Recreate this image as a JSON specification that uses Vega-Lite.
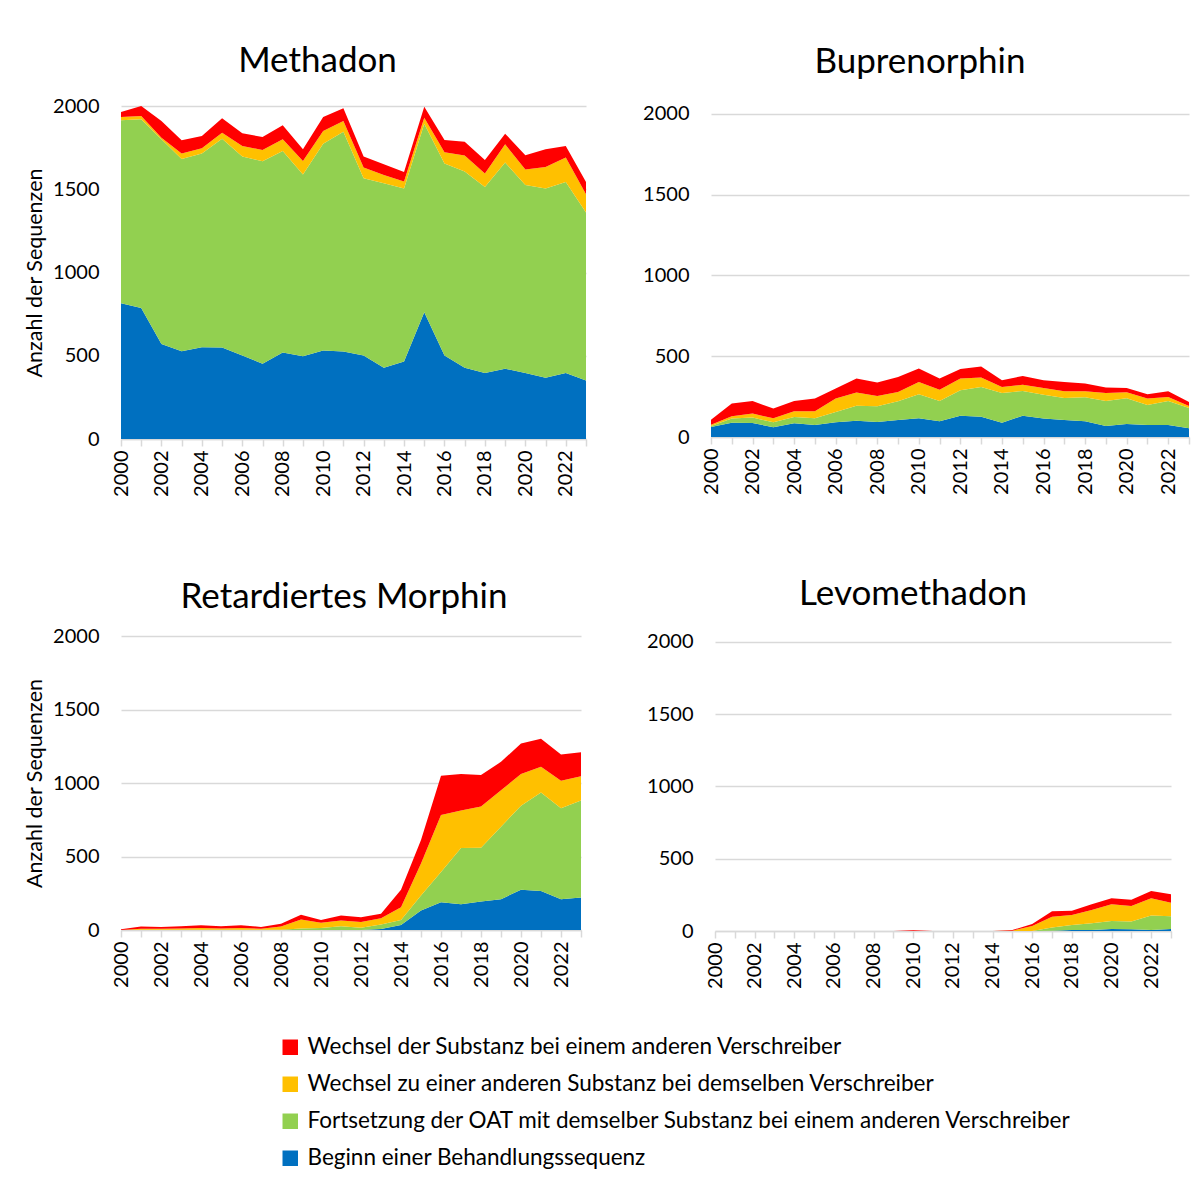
{
  "$schema": "https://vega.github.io/schema/vega-lite/v6.json",
  "padding": {"left": 24, "top": 44, "right": 5, "bottom": 5},
  "background": "white",
  "datasets": {
    "d": [
      {"drug":"M","year":2000,"k1":815,"k2":1099,"k3":20,"k4":30},
      {"drug":"M","year":2001,"k1":787,"k2":1133,"k3":20,"k4":60},
      {"drug":"M","year":2002,"k1":571,"k2":1229,"k3":10,"k4":100},
      {"drug":"M","year":2003,"k1":527,"k2":1155,"k3":32,"k4":80},
      {"drug":"M","year":2004,"k1":551,"k2":1163,"k3":32,"k4":74},
      {"drug":"M","year":2005,"k1":549,"k2":1255,"k3":36,"k4":86},
      {"drug":"M","year":2006,"k1":501,"k2":1195,"k3":64,"k4":76},
      {"drug":"M","year":2007,"k1":452,"k2":1216,"k3":68,"k4":78},
      {"drug":"M","year":2008,"k1":519,"k2":1211,"k3":70,"k4":84},
      {"drug":"M","year":2009,"k1":497,"k2":1091,"k3":82,"k4":70},
      {"drug":"M","year":2010,"k1":531,"k2":1243,"k3":76,"k4":84},
      {"drug":"M","year":2011,"k1":525,"k2":1321,"k3":64,"k4":76},
      {"drug":"M","year":2012,"k1":501,"k2":1065,"k3":64,"k4":66},
      {"drug":"M","year":2013,"k1":428,"k2":1108,"k3":50,"k4":64},
      {"drug":"M","year":2014,"k1":465,"k2":1039,"k3":42,"k4":58},
      {"drug":"M","year":2015,"k1":761,"k2":1133,"k3":36,"k4":66},
      {"drug":"M","year":2016,"k1":501,"k2":1153,"k3":68,"k4":74},
      {"drug":"M","year":2017,"k1":428,"k2":1178,"k3":96,"k4":84},
      {"drug":"M","year":2018,"k1":396,"k2":1118,"k3":80,"k4":82},
      {"drug":"M","year":2019,"k1":422,"k2":1238,"k3":110,"k4":64},
      {"drug":"M","year":2020,"k1":396,"k2":1130,"k3":92,"k4":86},
      {"drug":"M","year":2021,"k1":368,"k2":1136,"k3":130,"k4":106},
      {"drug":"M","year":2022,"k1":396,"k2":1148,"k3":146,"k4":70},
      {"drug":"M","year":2023,"k1":352,"k2":1008,"k3":110,"k4":74},
      {"drug":"B","year":2000,"k1":62,"k2":6,"k3":8,"k4":31},
      {"drug":"B","year":2001,"k1":89,"k2":25,"k3":14,"k4":79},
      {"drug":"B","year":2002,"k1":87,"k2":33,"k3":25,"k4":78},
      {"drug":"B","year":2003,"k1":60,"k2":31,"k3":25,"k4":60},
      {"drug":"B","year":2004,"k1":85,"k2":39,"k3":35,"k4":64},
      {"drug":"B","year":2005,"k1":74,"k2":42,"k3":43,"k4":79},
      {"drug":"B","year":2006,"k1":91,"k2":64,"k3":83,"k4":62},
      {"drug":"B","year":2007,"k1":101,"k2":93,"k3":81,"k4":87},
      {"drug":"B","year":2008,"k1":93,"k2":97,"k3":64,"k4":83},
      {"drug":"B","year":2009,"k1":105,"k2":116,"k3":58,"k4":93},
      {"drug":"B","year":2010,"k1":116,"k2":148,"k3":77,"k4":83},
      {"drug":"B","year":2011,"k1":97,"k2":126,"k3":70,"k4":69},
      {"drug":"B","year":2012,"k1":132,"k2":157,"k3":73,"k4":59},
      {"drug":"B","year":2013,"k1":126,"k2":184,"k3":58,"k4":68},
      {"drug":"B","year":2014,"k1":89,"k2":184,"k3":37,"k4":41},
      {"drug":"B","year":2015,"k1":132,"k2":153,"k3":39,"k4":54},
      {"drug":"B","year":2016,"k1":114,"k2":148,"k3":42,"k4":47},
      {"drug":"B","year":2017,"k1":105,"k2":137,"k3":41,"k4":58},
      {"drug":"B","year":2018,"k1":97,"k2":149,"k3":37,"k4":48},
      {"drug":"B","year":2019,"k1":68,"k2":155,"k3":50,"k4":33},
      {"drug":"B","year":2020,"k1":81,"k2":159,"k3":37,"k4":27},
      {"drug":"B","year":2021,"k1":74,"k2":124,"k3":40,"k4":26},
      {"drug":"B","year":2022,"k1":74,"k2":149,"k3":25,"k4":35},
      {"drug":"B","year":2023,"k1":54,"k2":126,"k3":12,"k4":25},
      {"drug":"R","year":2000,"k1":0,"k2":0,"k3":0,"k4":5},
      {"drug":"R","year":2001,"k1":0,"k2":2,"k3":7,"k4":14},
      {"drug":"R","year":2002,"k1":0,"k2":2,"k3":7,"k4":12},
      {"drug":"R","year":2003,"k1":0,"k2":2,"k3":9,"k4":14},
      {"drug":"R","year":2004,"k1":0,"k2":2,"k3":12,"k4":18},
      {"drug":"R","year":2005,"k1":0,"k2":2,"k3":9,"k4":14},
      {"drug":"R","year":2006,"k1":0,"k2":2,"k3":12,"k4":18},
      {"drug":"R","year":2007,"k1":0,"k2":2,"k3":7,"k4":12},
      {"drug":"R","year":2008,"k1":0,"k2":2,"k3":21,"k4":20},
      {"drug":"R","year":2009,"k1":0,"k2":11,"k3":60,"k4":32},
      {"drug":"R","year":2010,"k1":0,"k2":14,"k3":36,"k4":18},
      {"drug":"R","year":2011,"k1":0,"k2":25,"k3":39,"k4":34},
      {"drug":"R","year":2012,"k1":0,"k2":16,"k3":39,"k4":32},
      {"drug":"R","year":2013,"k1":7,"k2":30,"k3":43,"k4":30},
      {"drug":"R","year":2014,"k1":34,"k2":34,"k3":87,"k4":119},
      {"drug":"R","year":2015,"k1":132,"k2":103,"k3":217,"k4":160},
      {"drug":"R","year":2016,"k1":189,"k2":206,"k3":388,"k4":267},
      {"drug":"R","year":2017,"k1":176,"k2":381,"k3":256,"k4":249},
      {"drug":"R","year":2018,"k1":194,"k2":365,"k3":281,"k4":215},
      {"drug":"R","year":2019,"k1":210,"k2":493,"k3":247,"k4":194},
      {"drug":"R","year":2020,"k1":274,"k2":571,"k3":217,"k4":207},
      {"drug":"R","year":2021,"k1":265,"k2":671,"k3":174,"k4":191},
      {"drug":"R","year":2022,"k1":210,"k2":619,"k3":187,"k4":178},
      {"drug":"R","year":2023,"k1":221,"k2":660,"k3":165,"k4":164},
      {"drug":"L","year":2000,"k1":0,"k2":0,"k3":0,"k4":0},
      {"drug":"L","year":2001,"k1":0,"k2":0,"k3":0,"k4":0},
      {"drug":"L","year":2002,"k1":0,"k2":0,"k3":0,"k4":0},
      {"drug":"L","year":2003,"k1":0,"k2":0,"k3":0,"k4":0},
      {"drug":"L","year":2004,"k1":0,"k2":0,"k3":0,"k4":0},
      {"drug":"L","year":2005,"k1":0,"k2":0,"k3":0,"k4":0},
      {"drug":"L","year":2006,"k1":0,"k2":0,"k3":0,"k4":0},
      {"drug":"L","year":2007,"k1":0,"k2":0,"k3":0,"k4":0},
      {"drug":"L","year":2008,"k1":0,"k2":0,"k3":0,"k4":0},
      {"drug":"L","year":2009,"k1":0,"k2":0,"k3":0,"k4":0},
      {"drug":"L","year":2010,"k1":0,"k2":0,"k3":0,"k4":5},
      {"drug":"L","year":2011,"k1":0,"k2":0,"k3":0,"k4":0},
      {"drug":"L","year":2012,"k1":0,"k2":0,"k3":0,"k4":0},
      {"drug":"L","year":2013,"k1":0,"k2":0,"k3":0,"k4":0},
      {"drug":"L","year":2014,"k1":0,"k2":0,"k3":0,"k4":0},
      {"drug":"L","year":2015,"k1":0,"k2":0,"k3":2,"k4":5},
      {"drug":"L","year":2016,"k1":0,"k2":0,"k3":35,"k4":13},
      {"drug":"L","year":2017,"k1":2,"k2":23,"k3":74,"k4":37},
      {"drug":"L","year":2018,"k1":7,"k2":35,"k3":69,"k4":30},
      {"drug":"L","year":2019,"k1":7,"k2":46,"k3":92,"k4":40},
      {"drug":"L","year":2020,"k1":14,"k2":55,"k3":116,"k4":41},
      {"drug":"L","year":2021,"k1":12,"k2":53,"k3":108,"k4":44},
      {"drug":"L","year":2022,"k1":7,"k2":101,"k3":118,"k4":51},
      {"drug":"L","year":2023,"k1":14,"k2":88,"k3":94,"k4":58}
    ]
  },
  "config": {
    "font": "Lato",
    "view": {"stroke": null},
    "title": {"fontSize": 35, "fontWeight": "normal", "color": "#000000", "anchor": "middle", "frame": "group"},
    "axisX": {
      "labelAngle": -90,
      "labelFontSize": 20,
      "labelColor": "#000000",
      "labelOverlap": false,
      "labelPadding": 4,
      "tickColor": "#D9D9D9",
      "tickWidth": 1.5,
      "tickSize": 7,
      "domainColor": "#D9D9D9",
      "domainWidth": 1.5,
      "grid": false,
      "title": null
    },
    "axisY": {
      "grid": true,
      "gridColor": "#D9D9D9",
      "gridWidth": 1.5,
      "domain": false,
      "ticks": false,
      "labelFontSize": 20,
      "labelColor": "#000000",
      "labelPadding": 22,
      "titleFontSize": 21.5,
      "titleFontWeight": "normal",
      "titleColor": "#000000"
    }
  },
  "spacing": 79,
  "vconcat": [
    {
      "spacing": 46,
      "hconcat": [
        {
          "title": {"text": "Methadon", "offset": 17, "dx": -36},
          "width": 465, "height": 333,
          "data": {"name": "d"},
          "transform": [{"filter": "datum.drug == 'M'"}, {"fold": ["k1","k2","k3","k4"], "as": ["cat","value"]}],
          "mark": {"type": "area"},
          "encoding": {
            "x": {"field": "year", "type": "quantitative", "scale": {"domain": [2000, 2023], "nice": false, "zero": false},
              "axis": {"values": [2000,2001,2002,2003,2004,2005,2006,2007,2008,2009,2010,2011,2012,2013,2014,2015,2016,2017,2018,2019,2020,2021,2022,2023], "format": "d", "labelExpr": "datum.value % 2 == 0 && datum.value < 2023 ? datum.label : ''"}},
            "y": {"field": "value", "type": "quantitative", "stack": "zero", "scale": {"domain": [0, 2000], "nice": false}, "axis": {"values": [0,500,1000,1500,2000], "format": "d", "title": "Anzahl der Sequenzen", "titlePadding": 6}},
            "color": {"field": "cat", "type": "nominal", "scale": {"domain": ["k4","k3","k2","k1"], "range": ["#FF0000","#FFC000","#92D050","#0070C0"]},
              "legend": {"orient": "none", "legendX": 158, "legendY": 930, "direction": "vertical", "title": null, "symbolType": "square", "symbolSize": 240, "symbolStrokeWidth": 0, "labelFontSize": 22.5, "labelColor": "#000000", "labelLimit": 1000, "rowPadding": 14, "labelOffset": 6, "padding": 0,
                "labelExpr": "datum.label == 'k4' ? 'Wechsel der Substanz bei einem anderen Verschreiber' : datum.label == 'k3' ? 'Wechsel zu einer anderen Substanz bei demselben Verschreiber' : datum.label == 'k2' ? 'Fortsetzung der OAT mit demselber Substanz bei einem anderen Verschreiber' : 'Beginn einer Behandlungssequenz'"}},
            "order": {"field": "cat", "sort": "ascending"}
          }
        },
        {
          "title": {"text": "Buprenorphin", "offset": 24, "dx": -30},
          "width": 478, "height": 331,
          "data": {"name": "d"},
          "transform": [{"filter": "datum.drug == 'B'"}, {"fold": ["k1","k2","k3","k4"], "as": ["cat","value"]}],
          "mark": {"type": "area"},
          "encoding": {
            "x": {"field": "year", "type": "quantitative", "scale": {"domain": [2000, 2023], "nice": false, "zero": false},
              "axis": {"values": [2000,2001,2002,2003,2004,2005,2006,2007,2008,2009,2010,2011,2012,2013,2014,2015,2016,2017,2018,2019,2020,2021,2022,2023], "format": "d", "labelExpr": "datum.value % 2 == 0 && datum.value < 2023 ? datum.label : ''"}},
            "y": {"field": "value", "type": "quantitative", "stack": "zero", "scale": {"domain": [0, 2049.5], "nice": false}, "axis": {"values": [0,500,1000,1500,2000], "format": "d", "title": null}},
            "color": {"field": "cat", "type": "nominal", "scale": {"domain": ["k4","k3","k2","k1"], "range": ["#FF0000","#FFC000","#92D050","#0070C0"]}},
            "order": {"field": "cat", "sort": "ascending"}
          }
        }
      ]
    },
    {
      "spacing": 55,
      "hconcat": [
        {
          "title": {"text": "Retardiertes Morphin", "offset": 11, "dx": -7},
          "width": 460, "height": 294,
          "data": {"name": "d"},
          "transform": [{"filter": "datum.drug == 'R'"}, {"fold": ["k1","k2","k3","k4"], "as": ["cat","value"]}],
          "mark": {"type": "area"},
          "encoding": {
            "x": {"field": "year", "type": "quantitative", "scale": {"domain": [2000, 2023], "nice": false, "zero": false},
              "axis": {"values": [2000,2001,2002,2003,2004,2005,2006,2007,2008,2009,2010,2011,2012,2013,2014,2015,2016,2017,2018,2019,2020,2021,2022,2023], "format": "d", "labelExpr": "datum.value % 2 == 0 && datum.value < 2023 ? datum.label : ''"}},
            "y": {"field": "value", "type": "quantitative", "stack": "zero", "scale": {"domain": [0, 2000], "nice": false}, "axis": {"values": [0,500,1000,1500,2000], "format": "d", "title": "Anzahl der Sequenzen", "titlePadding": 6}},
            "color": {"field": "cat", "type": "nominal", "scale": {"domain": ["k4","k3","k2","k1"], "range": ["#FF0000","#FFC000","#92D050","#0070C0"]}},
            "order": {"field": "cat", "sort": "ascending"}
          }
        },
        {
          "title": {"text": "Levomethadon", "offset": 20, "dx": -30},
          "width": 456, "height": 295,
          "data": {"name": "d"},
          "transform": [{"filter": "datum.drug == 'L'"}, {"fold": ["k1","k2","k3","k4"], "as": ["cat","value"]}],
          "mark": {"type": "area"},
          "encoding": {
            "x": {"field": "year", "type": "quantitative", "scale": {"domain": [2000, 2023], "nice": false, "zero": false},
              "axis": {"values": [2000,2001,2002,2003,2004,2005,2006,2007,2008,2009,2010,2011,2012,2013,2014,2015,2016,2017,2018,2019,2020,2021,2022,2023], "format": "d", "labelExpr": "datum.value % 2 == 0 && datum.value < 2023 ? datum.label : ''"}},
            "y": {"field": "value", "type": "quantitative", "stack": "zero", "scale": {"domain": [0, 2041.5], "nice": false}, "axis": {"values": [0,500,1000,1500,2000], "format": "d", "title": null}},
            "color": {"field": "cat", "type": "nominal", "scale": {"domain": ["k4","k3","k2","k1"], "range": ["#FF0000","#FFC000","#92D050","#0070C0"]}},
            "order": {"field": "cat", "sort": "ascending"}
          }
        }
      ]
    }
  ]
}
